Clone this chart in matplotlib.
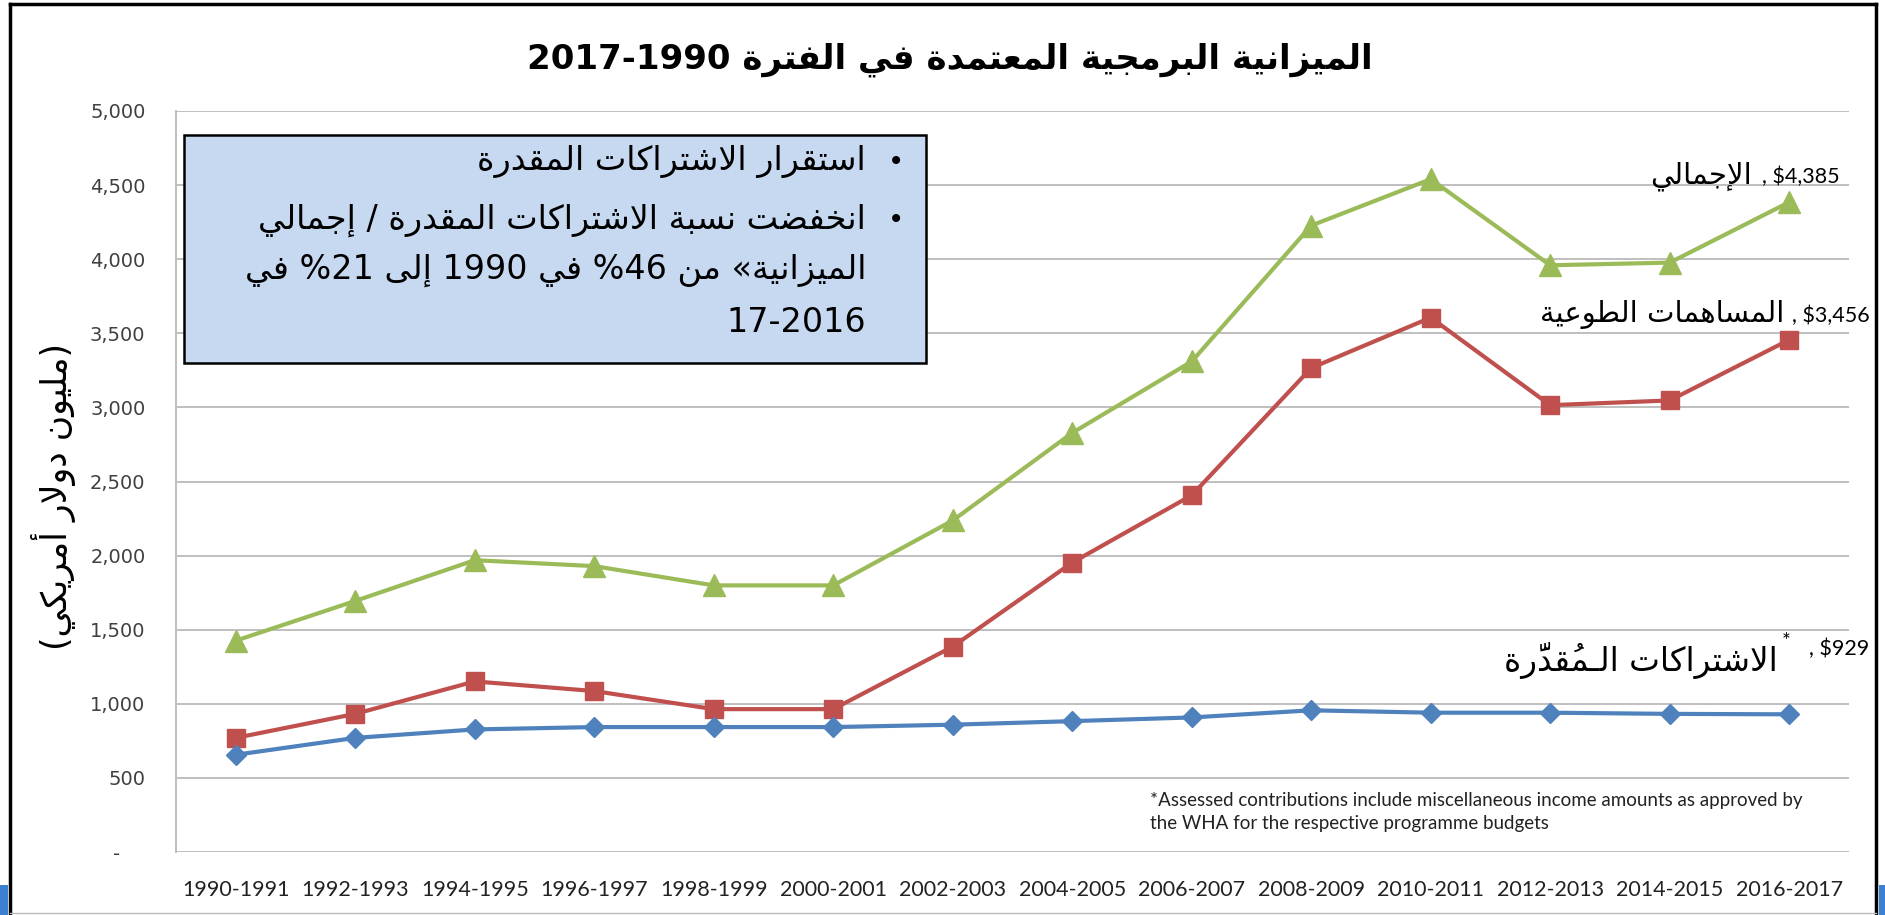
import re
import matplotlib
matplotlib.use('Agg')
import matplotlib.pyplot as plt
from matplotlib.patches import Rectangle
from matplotlib.lines import Line2D
from matplotlib.ticker import FuncFormatter

# data
periods = ['1990-1991', '1992-1993', '1994-1995', '1996-1997', '1998-1999', '2000-2001', '2002-2003',
           '2004-2005', '2006-2007', '2008-2009', '2010-2011', '2012-2013', '2014-2015', '2016-2017']
total = [1426, 1694, 1969, 1929, 1799, 1799, 2237, 2828, 3310, 4227, 4540, 3959, 3977, 4385]
voluntary = [770, 932, 1151, 1086, 964, 964, 1386, 1953, 2407, 3266, 3606, 3015, 3047, 3456]
assessed = [656, 770, 827, 843, 843, 843, 859, 883, 908, 956, 940, 940, 932, 929]

title = 'الميزانية البرمجية المعتمدة في الفترة 1990-2017'
box_lines = ['استقرار الاشتراكات المقدرة',
             'انخفضت نسبة الاشتراكات المقدرة / إجمالي',
             'الميزانية» من 46% في 1990 إلى 21% في',
             '2016-17']
y_label = '(مليون دولار أمريكي)'
lab_total = 'الإجمالي'
lab_vol = 'المساهمات الطوعية'
lab_ass = 'الاشتراكات الـمُقدَّرة'
footnote = ('*Assessed contributions include miscellaneous income amounts as approved by\n'
            'the WHA for the respective programme budgets')

# --- minimal arabic shaping (matplotlib has no complex text layout) ---
BASE = {
    0x0621: (0xFE80, 'N'), 0x0622: (0xFE81, 'R'), 0x0623: (0xFE83, 'R'), 0x0624: (0xFE85, 'R'),
    0x0625: (0xFE87, 'R'), 0x0626: (0xFE89, 'D'), 0x0627: (0xFE8D, 'R'), 0x0628: (0xFE8F, 'D'),
    0x0629: (0xFE93, 'R'), 0x062A: (0xFE95, 'D'), 0x062B: (0xFE99, 'D'), 0x062C: (0xFE9D, 'D'),
    0x062D: (0xFEA1, 'D'), 0x062E: (0xFEA5, 'D'), 0x062F: (0xFEA9, 'R'), 0x0630: (0xFEAB, 'R'),
    0x0631: (0xFEAD, 'R'), 0x0632: (0xFEAF, 'R'), 0x0633: (0xFEB1, 'D'), 0x0634: (0xFEB5, 'D'),
    0x0635: (0xFEB9, 'D'), 0x0636: (0xFEBD, 'D'), 0x0637: (0xFEC1, 'D'), 0x0638: (0xFEC5, 'D'),
    0x0639: (0xFEC9, 'D'), 0x063A: (0xFECD, 'D'), 0x0641: (0xFED1, 'D'), 0x0642: (0xFED5, 'D'),
    0x0643: (0xFED9, 'D'), 0x0644: (0xFEDD, 'D'), 0x0645: (0xFEE1, 'D'), 0x0646: (0xFEE5, 'D'),
    0x0647: (0xFEE9, 'D'), 0x0648: (0xFEED, 'R'), 0x0649: (0xFEEF, 'R'), 0x064A: (0xFEF1, 'D'),
}
LAM_ALEF = {'\u0622': 0xFEF5, '\u0623': 0xFEF7, '\u0625': 0xFEF9, '\u0627': 0xFEFB}
MIRROR = {'(': ')', ')': '(', '«': '»', '»': '«'}


def is_mark(ch):
    o = ord(ch)
    return 0x064B <= o <= 0x065F or o == 0x0670 or 0x0610 <= o <= 0x061A


def shape(s):
    cl = []
    for ch in s:
        if is_mark(ch) and cl:
            cl[-1][1].append(ch)
        else:
            cl.append([ch, []])
    items = []
    k = 0
    while k < len(cl):
        ch, mk = cl[k]
        if ch == '\u0644' and k + 1 < len(cl) and cl[k + 1][0] in LAM_ALEF:
            items.append({'t': 'R', 'base': LAM_ALEF[cl[k + 1][0]], 'ch': ch, 'marks': mk + cl[k + 1][1]})
            k += 2
            continue
        if ord(ch) in BASE:
            b, t = BASE[ord(ch)]
            items.append({'t': t, 'base': b, 'ch': ch, 'marks': mk})
        elif ch == '\u0640':
            items.append({'t': 'D', 'base': None, 'ch': ch, 'marks': mk})
        else:
            items.append({'t': 'U', 'base': None, 'ch': ch, 'marks': mk})
        k += 1
    out = []
    for i, it in enumerate(items):
        t = it['t']
        prev = items[i - 1]['t'] if i > 0 else 'U'
        nxt = items[i + 1]['t'] if i + 1 < len(items) else 'U'
        jp = t in ('D', 'R') and prev == 'D'
        jn = t == 'D' and nxt in ('D', 'R')
        if it['base'] is None:
            g = it['ch']
        elif t == 'N':
            g = chr(it['base'])
        else:
            off = 3 if (jp and jn) else 1 if jp else 2 if jn else 0
            g = chr(it['base'] + off)
        # marks go before the base in visual order (drawn rightwards over it)
        out.append(''.join(it['marks']) + g)
    return out


def ar(s):
    parts = re.split(r'([0-9A-Za-z$][0-9A-Za-z$.,]*)', s)
    out = []
    for p in parts:
        if not p:
            continue
        if re.match(r'[0-9A-Za-z$]', p):
            out.append(p)
        else:
            out.append(''.join(MIRROR.get(c, c) for c in reversed(shape(p))))
    return ''.join(reversed(out))


W, H = 1885, 915


def fx(x):
    return x / W


def fy(y):
    return 1 - y / H


fig = plt.figure(figsize=(18.85, 9.15), dpi=100)
ax = fig.add_axes([fx(176), fy(852), fx(1849) - fx(176), fy(111) - fy(852)])

x = list(range(len(periods)))
ax.plot(x, total, color='#9BBB59', lw=3, marker='^', ms=16, zorder=3)
ax.plot(x, voluntary, color='#C0504D', lw=3, marker='s', ms=13.5, zorder=3)
ax.plot(x, assessed, color='#4F81BD', lw=3, marker='D', ms=10, zorder=3)

ax.set_xlim(-0.5, len(periods) - 0.5)
ax.set_ylim(0, 5000)
ax.set_yticks(range(0, 5001, 500))
ax.yaxis.set_major_formatter(FuncFormatter(lambda v, p: '-    ' if v == 0 else f'{int(v):,}'))
ax.set_xticks(x)
ax.set_xticklabels(periods, fontfamily='Lato', fontsize=15.5, color='#222222')
for lab in ax.get_yticklabels():
    lab.set_fontfamily('DejaVu Sans')
ax.tick_params(axis='y', length=0, pad=22, labelsize=14, labelcolor='#404040')
ax.tick_params(axis='x', length=0, pad=20)
ax.grid(axis='y', color='#BFBFBF', lw=1.4)
ax.set_axisbelow(True)
for sp in ['top', 'right', 'bottom']:
    ax.spines[sp].set_visible(False)
ax.spines['left'].set_color('#BFBFBF')
ax.spines['left'].set_linewidth(1.4)

# title and axis label
fig.text(fx(950), fy(60), ar(title), ha='center', va='center', fontsize=24.5,
         fontweight='bold', family='DejaVu Sans')
fig.text(fx(54), fy(497), ar(y_label), ha='center', va='center', rotation=90,
         fontsize=25, family='DejaVu Sans')

# text box
fig.add_artist(Rectangle((fx(184), fy(363)), fx(926) - fx(184), fy(135) - fy(363),
                         transform=fig.transFigure, facecolor='#C6D9F1', edgecolor='black', lw=1.8))
line_y = [162, 220, 270, 322]
for i, (txt, yy) in enumerate(zip(box_lines, line_y)):
    fig.text(fx(866), fy(yy), ar(txt), ha='right', va='center', fontsize=24, family='DejaVu Sans')
    if i < 2:
        fig.text(fx(896), fy(yy), '•', ha='center', va='center', fontsize=20, family='DejaVu Sans')

# series end labels
fig.text(fx(1752), fy(183), ar(lab_total), ha='right', va='baseline', fontsize=21, family='DejaVu Sans')
fig.text(fx(1840), fy(183), f', ${total[-1]:,}', ha='right', va='baseline', fontsize=15.5, family='Lato')
fig.text(fx(1784), fy(322), ar(lab_vol), ha='right', va='baseline', fontsize=21, family='DejaVu Sans')
fig.text(fx(1870), fy(322), f', ${voluntary[-1]:,}', ha='right', va='baseline', fontsize=15.5, family='Lato')
fig.text(fx(1778), fy(671), ar(lab_ass), ha='right', va='baseline', fontsize=23.5, family='DejaVu Sans')
fig.text(fx(1782), fy(648), '*', ha='left', va='baseline', fontsize=15, family='Lato')
fig.text(fx(1869), fy(655), f', ${assessed[-1]:,}', ha='right', va='baseline', fontsize=15.5, family='Lato')

fig.text(fx(1150), fy(812), footnote, ha='left', va='center', fontsize=13.5, family='Lato',
         linespacing=1.4, color='#222222')

# slide frame
fig.add_artist(Line2D([fx(10), fx(10)], [fy(915), fy(4)], transform=fig.transFigure, color='black', lw=2.5))
fig.add_artist(Line2D([fx(10), fx(1876)], [fy(4), fy(4)], transform=fig.transFigure, color='black', lw=2.5))
fig.add_artist(Line2D([fx(1876), fx(1876)], [fy(4), fy(915)], transform=fig.transFigure, color='black', lw=2.5))
fig.add_artist(Line2D([fx(10), fx(1876)], [fy(913), fy(913)], transform=fig.transFigure, color='#BBBBBB', lw=1))
fig.add_artist(Rectangle((0, 0), fx(8), fy(885), transform=fig.transFigure, color='#3C80D0', lw=0))
fig.add_artist(Rectangle((fx(1879), 0), fx(6), fy(885), transform=fig.transFigure, color='#3C80D0', lw=0))

fig.savefig('out.png', dpi=100, facecolor='white')
